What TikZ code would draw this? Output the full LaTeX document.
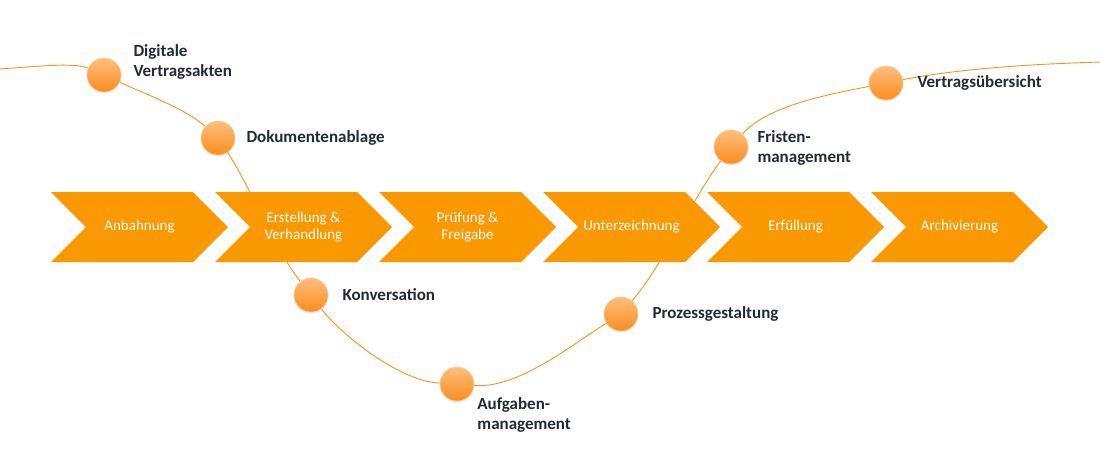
\documentclass[tikz,border=0pt]{standalone}
\usepackage{fontspec}
\setmainfont{Carlito}
\usetikzlibrary{shapes.symbols,positioning,backgrounds,shadows}

\definecolor{chevorange}{RGB}{250,152,0}
\definecolor{lineorange}{RGB}{247,148,30}
\definecolor{balltop}{RGB}{255,190,125}
\definecolor{ballbottom}{RGB}{248,142,28}
\definecolor{labeltext}{RGB}{33,43,54}

\begin{document}
\begin{tikzpicture}[x=1pt,y=-1pt,
    phase/.style={signal,signal to=east,signal from=west,fill=chevorange,draw=none,
      minimum width=177pt,minimum height=70pt,inner sep=0pt,
      text=white,font=\fontsize{15}{17}\selectfont,align=center},
    ball/.style={circle,minimum size=34pt,inner sep=0pt,draw=balltop!80!white,line width=0.6pt,
      top color=balltop,bottom color=ballbottom,
      drop shadow={opacity=0.18,shadow xshift=0pt,shadow yshift=-1.5pt}},
    feature/.style={inner sep=0pt,text=labeltext,font=\fontsize{17}{20}\selectfont\bfseries,align=left},
    curve/.style={draw=lineorange,line width=0.9pt}]
    \useasboundingbox (0,0) rectangle (1100,455);

    % the six phases
    \node[phase] (anbahnung)   at (139.5,227) {Anbahnung};
    \node[phase] (erstellung)  at (303.5,227) {Erstellung \&\\Verhandlung};
    \node[phase] (pruefung)    at (467.5,227) {Prüfung \&\\Freigabe};
    \node[phase] (unterz)      at (631.5,227) {Unterzeichnung};
    \node[phase] (erfuellung)  at (795.5,227) {Erfüllung};
    \node[phase] (archiv)      at (959.5,227) {Archivierung};

    % features along the wave
    \node[ball] (akten)      at (104,75)  {};
    \node[ball] (ablage)     at (218,138) {};
    \node[ball] (konv)       at (311,295) {};
    \node[ball] (aufgaben)   at (457,384) {};
    \node[ball] (prozess)    at (621,314) {};
    \node[ball] (fristen)    at (731,147) {};
    \node[ball] (uebersicht) at (886,83)  {};

    \node[feature] (aktenlabel) [right=12pt of akten,yshift=13pt] {Digitale\\Vertragsakten};
    \node[feature] (ablagelabel) [right=11pt of ablage] {Dokumentenablage};
    \node[feature] (konvlabel) [right=14pt of konv] {Konversation};
    \node[feature] (aufgabenlabel) [below right=1pt and 8pt of aufgaben] {Aufgaben-\\management};
    \node[feature] (prozesslabel) [right=14pt of prozess] {Prozessgestaltung};
    \node[feature] (fristenlabel) [right=9pt of fristen,yshift=-1pt] {Fristen-\\management};
    \node[feature] (uebersichtlabel) [right=14pt of uebersicht] {Vertragsübersicht};

    \coordinate (wavestart) at (-2,69);
    \coordinate (waveend) at (1102,62);

    % the wave behind phases and balls
    \begin{pgfonlayer}{background}
      \draw[curve] (wavestart) .. controls (33,67) and (74,62) .. (akten)
        .. controls (143,93) and (186,109) .. (ablage)
        .. controls (251,188) and (274,248) .. (konv)
        .. controls (338,331) and (397,381) .. (aufgaben)
        .. controls (517,389) and (570,346) .. (prozess)
        .. controls (664,263) and (691,201) .. (fristen)
        .. controls (768,105) and (831,94) .. (uebersicht)
        .. controls (957,69) and (1030,64) .. (waveend);
    \end{pgfonlayer}
\end{tikzpicture}
\end{document}
